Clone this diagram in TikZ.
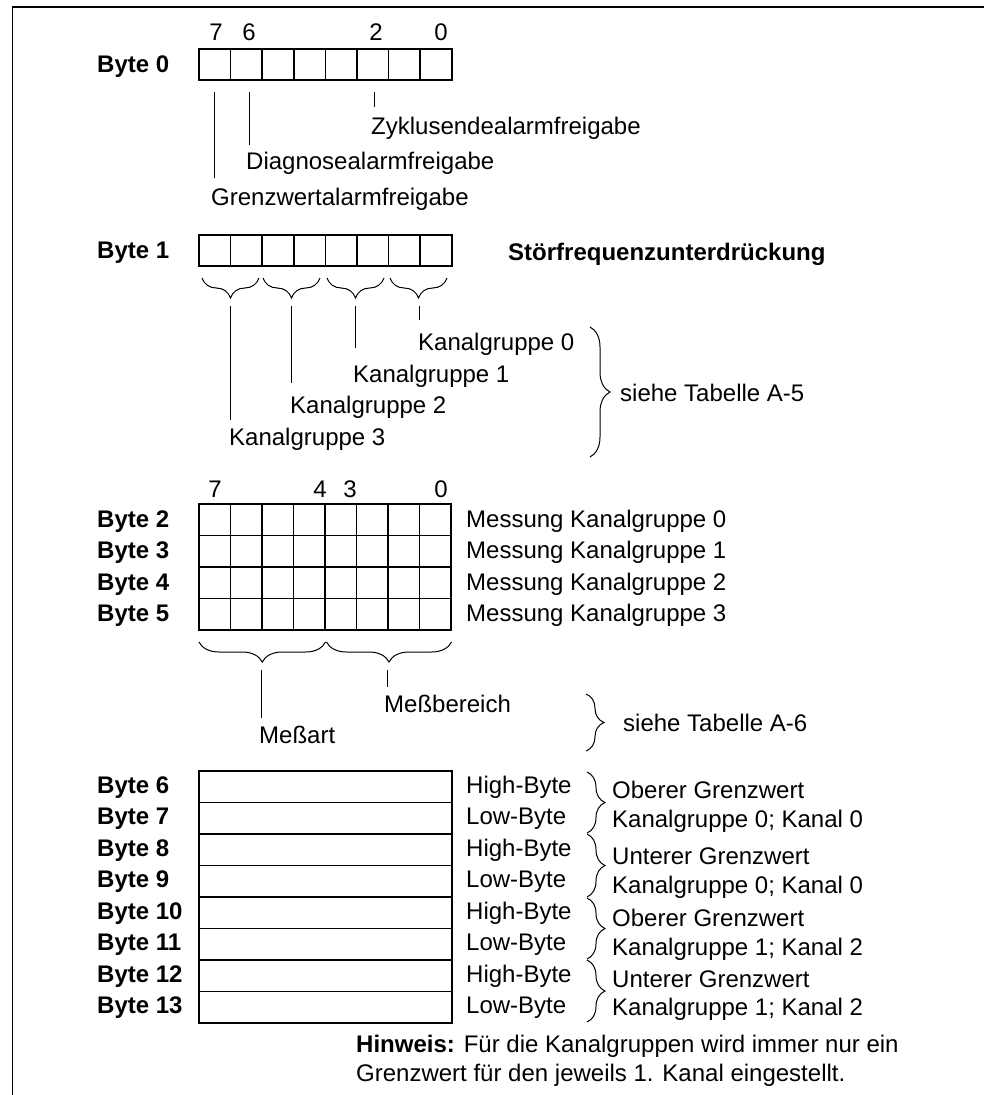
\documentclass[tikz,border=0pt]{standalone}
\usepackage{fontspec}
\setmainfont{Liberation Sans}
\usetikzlibrary{decorations.pathreplacing}
\tikzset{
  txt/.style={inner sep=0pt, anchor=base west, font=\fontsize{24}{28}\selectfont},
  btxt/.style={txt, font=\fontsize{24}{28}\selectfont\bfseries},
  dig/.style={inner sep=0pt, anchor=base, font=\fontsize{24}{28}\selectfont},
  cellbox/.style={line width=1.6pt},
  leader/.style={line width=1pt},
  frameline/.style={line width=1.6pt},
  brc/.style={line width=1pt, decorate, decoration={brace, amplitude=#1}},
}
\begin{document}
\begin{tikzpicture}[x=1pt, y=-1pt]
\useasboundingbox (0,0) rectangle (984,1095);
% frame
\coordinate (fTR) at (984,7);
\coordinate (fTL) at (12.5,7);
\coordinate (fBL) at (12.5,1095);
\draw[frameline] (fTR) -- (fTL) -- (fBL);

% ---------- Byte 0 ----------
\node[btxt] (b0) at (97,72) {Byte 0};
\foreach \i in {0,...,7} \draw[cellbox] (199+\i*31.6,49) rectangle ++(31.6,31);
\node[dig] (d07) at (216,40) {7};
\node[dig] (d06) at (249,40) {6};
\node[dig] (d02) at (376,40) {2};
\node[dig] (d00) at (441,40) {0};
\node[txt] (zyk) at (371,134) {Zyklusendealarmfreigabe};
\node[txt] (dia) at (246,169) {Diagnosealarmfreigabe};
\node[txt] (grz) at (211,205) {Grenzwertalarmfreigabe};
\coordinate (l7a) at (214,92); \coordinate (l7b) at (214,178);
\coordinate (l6a) at (249,92); \coordinate (l6b) at (249,145);
\coordinate (l2a) at (374,92); \coordinate (l2b) at (374,107);
\draw[leader] (l7a) -- (l7b);
\draw[leader] (l6a) -- (l6b);
\draw[leader] (l2a) -- (l2b);

% ---------- Byte 1 ----------
\node[btxt] (b1) at (97,258) {Byte 1};
\foreach \i in {0,...,7} \draw[cellbox] (199+\i*31.6,235) rectangle ++(31.6,31);
\node[btxt] (stf) at (508,260) {Störfrequenzunterdrückung};
\draw[brc=20] (259,278) -- (202,278);
\draw[brc=20] (320,278) -- (263,278);
\draw[brc=20] (384,278) -- (327,278);
\draw[brc=20] (447,278) -- (390,278);
\node[txt] (kg0) at (418,350) {Kanalgruppe 0};
\node[txt] (kg1) at (353,382) {Kanalgruppe 1};
\node[txt] (kg2) at (290,413) {Kanalgruppe 2};
\node[txt] (kg3) at (229,445) {Kanalgruppe 3};
\coordinate (k3a) at (230,306); \coordinate (k3b) at (230,420);
\coordinate (k2a) at (291,306); \coordinate (k2b) at (291,383);
\coordinate (k1a) at (355,306); \coordinate (k1b) at (355,348);
\coordinate (k0a) at (419,306); \coordinate (k0b) at (419,320);
\draw[leader] (k3a) -- (k3b);
\draw[leader] (k2a) -- (k2b);
\draw[leader] (k1a) -- (k1b);
\draw[leader] (k0a) -- (k0b);
\coordinate (a5t) at (590,327); \coordinate (a5b) at (590,457);
\draw[brc=20] (a5t) -- (a5b);
\node[txt] (a5) at (620,401) {siehe Tabelle A-5};

% ---------- Byte 2-5 ----------
\node[dig] (d27) at (215,497) {7};
\node[dig] (d24) at (320,497) {4};
\node[dig] (d23) at (350,497) {3};
\node[dig] (d20) at (441,497) {0};
\foreach \r in {0,...,3} {
  \foreach \i in {0,...,7} \draw[cellbox] (199+\i*31.5,504+\r*31.5) rectangle ++(31.5,31.5);
}
\node[btxt] (b2) at (97,527) {Byte 2};
\node[btxt] (b3) at (97,558) {Byte 3};
\node[btxt] (b4) at (97,590) {Byte 4};
\node[btxt] (b5) at (97,621) {Byte 5};
\node[txt] (m0) at (466,527) {Messung Kanalgruppe 0};
\node[txt] (m1) at (466,558) {Messung Kanalgruppe 1};
\node[txt] (m2) at (466,590) {Messung Kanalgruppe 2};
\node[txt] (m3) at (466,621) {Messung Kanalgruppe 3};
\draw[brc=20] (325.5,642) -- (199,642);
\draw[brc=20] (451.5,642) -- (326.5,642);
\coordinate (maa) at (261,670); \coordinate (mab) at (261,718);
\coordinate (mba) at (387,670); \coordinate (mbb) at (387,687);
\draw[leader] (maa) -- (mab);
\draw[leader] (mba) -- (mbb);
\node[txt] (mbr) at (384,712) {Meßbereich};
\node[txt] (mart) at (259,743) {Meßart};
\coordinate (a6t) at (586,694); \coordinate (a6b) at (586,751);
\draw[brc=18] (a6t) -- (a6b);
\node[txt] (a6) at (623,731) {siehe Tabelle A-6};

% ---------- Byte 6-13 ----------
\foreach \r in {0,...,7} \draw[cellbox] (199,771+\r*31.5) rectangle ++(253,31.5);
\foreach \n/\y in {6/793,7/824,8/856,9/887,10/919,11/950,12/982,13/1013}
  \node[btxt] (b\n) at (97,\y) {Byte \n};
\node[txt] (h6) at (466,793) {High-Byte};
\node[txt] (l7) at (466,824) {Low-Byte};
\node[txt] (h8) at (466,856) {High-Byte};
\node[txt] (l9) at (466,887) {Low-Byte};
\node[txt] (h10) at (466,919) {High-Byte};
\node[txt] (l11) at (466,950) {Low-Byte};
\node[txt] (h12) at (466,982) {High-Byte};
\node[txt] (l13) at (466,1013) {Low-Byte};
\draw[brc=18] (587,772) -- (587,833);
\draw[brc=18] (587,834) -- (587,897);
\draw[brc=18] (587,898) -- (587,959);
\draw[brc=18] (587,960) -- (587,1022);
\node[txt] (og1) at (612,798) {Oberer Grenzwert};
\node[txt] (kk1) at (612,827) {Kanalgruppe 0; Kanal 0};
\node[txt] (ug1) at (612,864) {Unterer Grenzwert};
\node[txt] (kk2) at (612,893) {Kanalgruppe 0; Kanal 0};
\node[txt] (og2) at (612,926) {Oberer Grenzwert};
\node[txt] (kk3) at (612,955) {Kanalgruppe 1; Kanal 2};
\node[txt] (ug2) at (612,987) {Unterer Grenzwert};
\node[txt] (kk4) at (612,1015) {Kanalgruppe 1; Kanal 2};

% ---------- Hinweis ----------
\node[txt] (hw1) at (356,1052) {\textbf{Hinweis:} Für die Kanalgruppen wird immer nur ein};
\node[txt] (hw2) at (356,1081) {Grenzwert für den jeweils 1. Kanal eingestellt.};
\end{tikzpicture}
\end{document}
